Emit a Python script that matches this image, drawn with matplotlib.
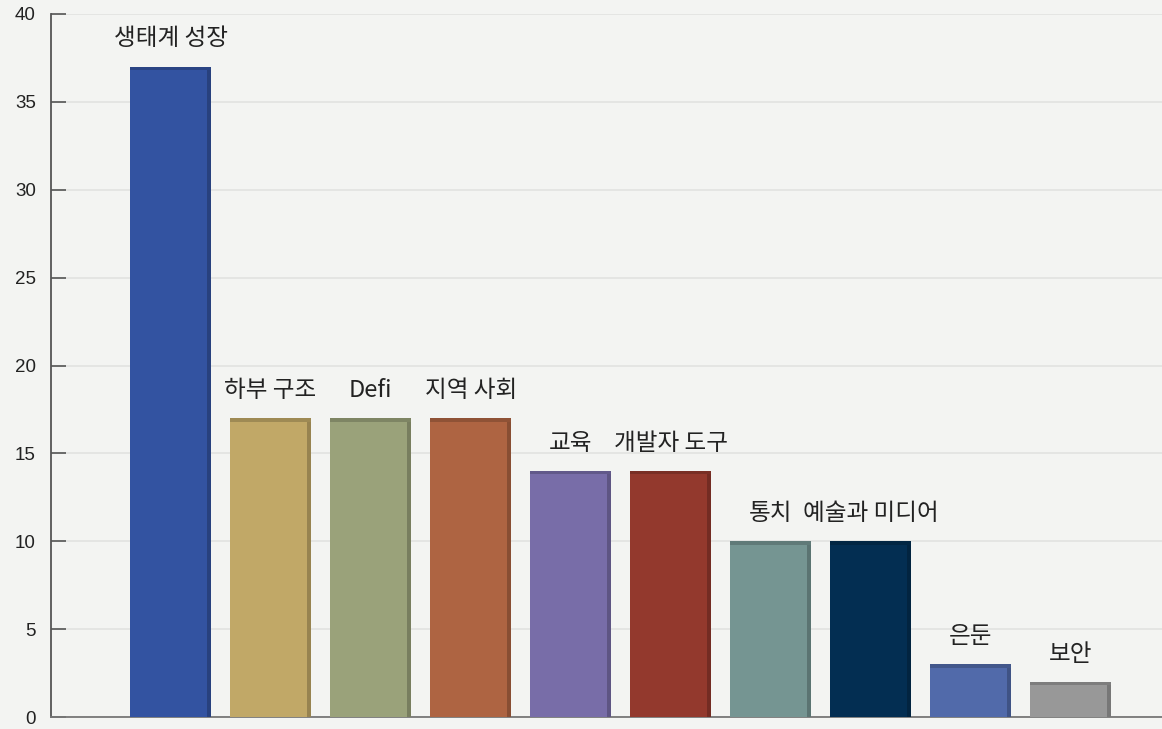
import numpy as np
import matplotlib.pyplot as plt

categories = ['생태계 성장', '하부 구조', 'Defi', '지역 사회', '교육', '개발자 도구',
              '통치', '예술과 미디어', '은둔', '보안']
values = [37, 17, 17, 17, 14, 14, 10, 10, 3, 2]
colors = ['#3353A1', '#C1A867', '#9AA27A', '#AE6442', '#786DA8', '#93392D',
          '#759592', '#032E52', '#516AAA', '#989898']
y_ticks = [0, 5, 10, 15, 20, 25, 30, 35, 40]

BG = '#F3F4F2'
plt.rcParams['font.family'] = ['Noto Sans CJK KR', 'DejaVu Sans']

fig = plt.figure(figsize=(11.62, 7.29), dpi=100, facecolor=BG)
ax = fig.add_axes([51 / 1162, 12 / 729, 1111 / 1162, 703 / 729])
ax.set_facecolor(BG)

x = np.arange(len(values))
width = 0.81

def darker(c, f=0.72):
    r, g, b = [int(c[i:i + 2], 16) / 255 for i in (1, 3, 5)]
    return (r * f, g * f, b * f)

# main bars
ax.bar(x, values, width=width, color=colors, zorder=3, linewidth=0)
# fake 3d bevel: dark strip on the right and thin cap on top
for xi, v, c in zip(x, values, colors):
    ax.bar(xi + width / 2 - 0.02, v, width=0.04, color=darker(c, 0.78), zorder=4, linewidth=0)
    ax.bar(xi, 0.2, bottom=v - 0.2, width=width, color=darker(c, 0.82), zorder=4, linewidth=0)

for xi, v, name in zip(x, values, categories):
    ax.annotate(name, (xi, v), xytext=(0, 20), textcoords='offset points',
                ha='center', va='center', fontsize=17, fontweight='medium',
                color='#222222', zorder=5)

ax.set_xlim(-1.195, 9.91)
ax.set_ylim(0, 40)
ax.set_yticks(y_ticks)
ax.set_xticks([])
ax.yaxis.grid(True, color='#E1E2E0', linewidth=1.2, zorder=0)
ax.tick_params(axis='y', direction='in', length=11, width=1.2, color='#555555',
               pad=11, labelsize=13.5, labelcolor='#222222')
for lbl in ax.get_yticklabels():
    lbl.set_family(['Liberation Sans', 'DejaVu Sans'])

for s in ['top', 'right']:
    ax.spines[s].set_visible(False)
ax.spines['left'].set_color('#555555')
ax.spines['left'].set_linewidth(1.3)
ax.spines['bottom'].set_color('#777777')
ax.spines['bottom'].set_linewidth(1.3)

fig.savefig('out.png', dpi=100, facecolor=BG)
